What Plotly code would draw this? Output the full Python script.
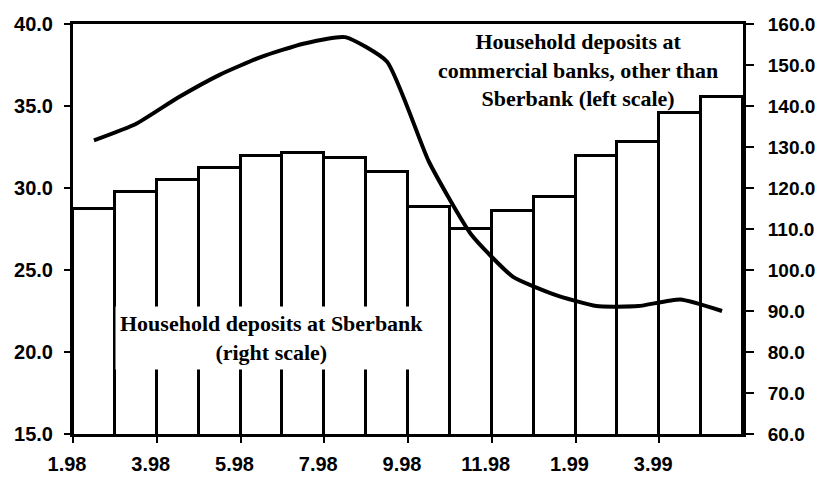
import plotly.graph_objects as go

months = ["1.98", "2.98", "3.98", "4.98", "5.98", "6.98", "7.98", "8.98",
          "9.98", "10.98", "11.98", "12.98", "1.99", "2.99", "3.99", "4.99"]
sberbank = [114.8, 119.0, 122.0, 125.0, 127.9, 128.6, 127.2, 124.0,
            115.3, 110.0, 114.4, 117.9, 127.7, 131.3, 138.4, 142.1]
commercial = [32.9, 33.9, 35.5, 36.9, 38.0, 38.8, 39.2, 37.7,
              31.6, 27.2, 24.6, 23.5, 22.8, 22.8, 23.2, 22.5]
left_ticks = [15.0, 20.0, 25.0, 30.0, 35.0, 40.0]
right_ticks = [60.0, 70.0, 80.0, 90.0, 100.0, 110.0, 120.0, 130.0, 140.0, 150.0, 160.0]

idx = list(range(len(months)))
tick_pos = [i - 0.5 for i in idx[::2]]
tick_txt = months[::2]

tickfont = dict(family="Liberation Sans", size=20, color="black", weight="bold")
rightfont = dict(family="Liberation Sans", size=19, color="black", weight="bold")

fig = go.Figure()
fig.add_trace(go.Bar(
    x=idx, y=sberbank, yaxis="y",
    marker=dict(color="white", line=dict(color="black", width=3)),
    showlegend=False, hoverinfo="skip"))
fig.add_trace(go.Scatter(
    x=idx, y=commercial, yaxis="y2", mode="lines",
    line=dict(color="black", width=4, shape="spline", smoothing=0.5),
    showlegend=False, hoverinfo="skip"))

fig.update_layout(
    width=819, height=483,
    margin=dict(l=73, r=76, t=24, b=49),
    paper_bgcolor="white", plot_bgcolor="white",
    bargap=0,
    xaxis=dict(range=[-0.5, 15.5], tickvals=tick_pos, ticktext=tick_txt,
               automargin=False,
               showgrid=False, zeroline=False, showline=True, mirror=True,
               linecolor="black", linewidth=3, ticks="outside", ticklen=6,
               tickwidth=2, tickcolor="black", tickfont=tickfont,
               ticklabelstandoff=4, ticklabelshift=-6),
    yaxis=dict(range=[60, 160], side="right", tickvals=right_ticks,
               ticktext=[f"{v:.1f}" for v in right_ticks], automargin=False,
               showgrid=False, zeroline=False, showline=True,
               linecolor="black", linewidth=3, ticks="outside", ticklen=8,
               tickwidth=2, tickcolor="black", tickfont=rightfont,
               ticklabelstandoff=10),
    yaxis2=dict(range=[15, 40], side="left", overlaying="y",
                tickvals=left_ticks, ticktext=[f"{v:.1f}" for v in left_ticks],
                automargin=False,
                showgrid=False, zeroline=False, showline=True,
                linecolor="black", linewidth=3, ticks="outside", ticklen=6,
                tickwidth=2, tickcolor="black", tickfont=tickfont,
                ticklabelstandoff=7),
)

annfont = dict(family="Liberation Serif", size=22, color="black", weight="bold")
fig.add_annotation(
    xref="paper", yref="paper", x=0.754, y=0.889,
    xanchor="center", yanchor="middle", showarrow=False, align="center",
    text="Household deposits at<br>commercial banks, other than<br>Sberbank (left scale)",
    font=annfont)
fig.add_annotation(
    xref="paper", yref="paper", x=0.297, y=0.234,
    xanchor="center", yanchor="middle", showarrow=False, align="center",
    text="Household deposits at Sberbank<br>(right scale)",
    font=annfont, bgcolor="white", borderpad=4)

fig.write_html("out.html", config={"displayModeBar": False},
               post_script="document.body.style.margin='0';document.body.style.padding='0';document.body.style.overflow='hidden';")
